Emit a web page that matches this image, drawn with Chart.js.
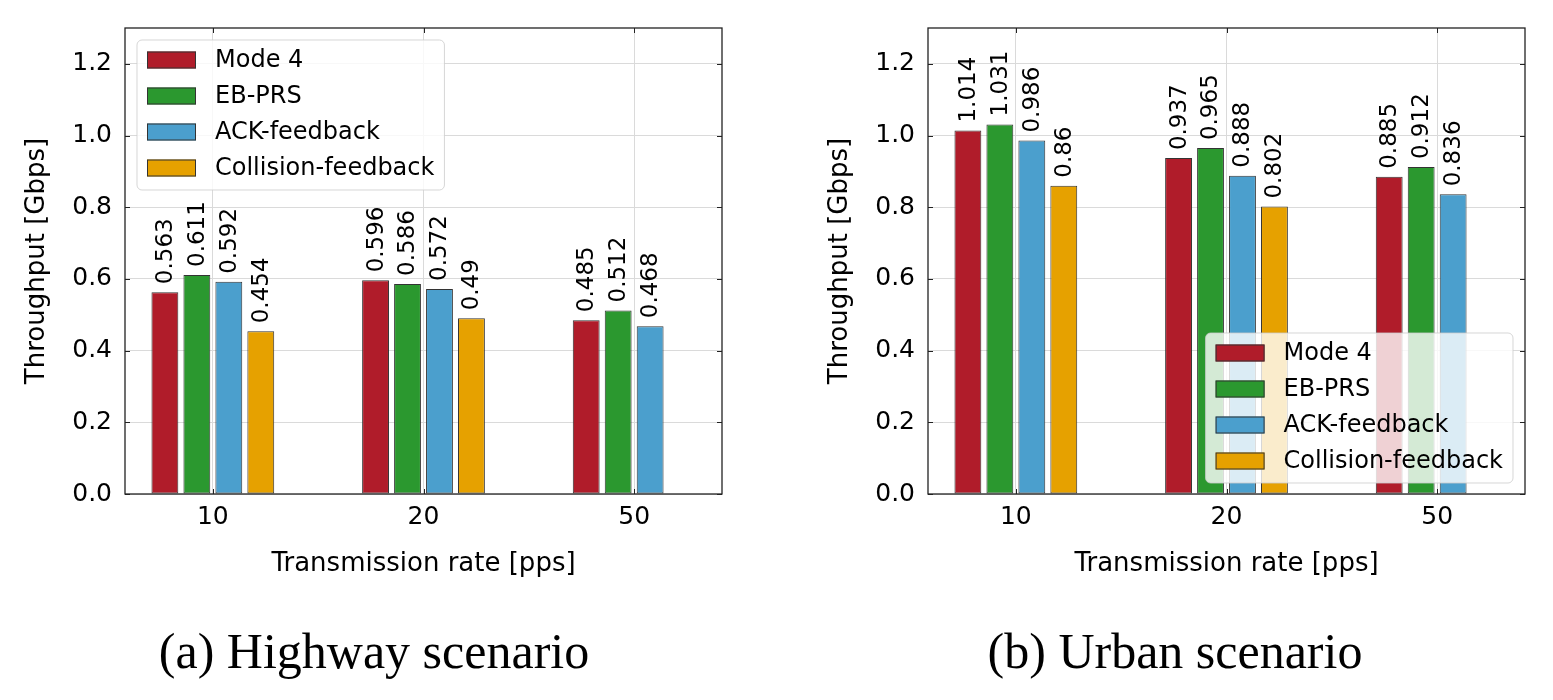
<!doctype html>
<html>
<head>
<meta charset="utf-8">
<title>Throughput</title>
<script src="https://cdn.jsdelivr.net/npm/chart.js"></script>
<style>
  body { margin: 0; background: #fff; width: 1553px; height: 700px; position: relative; overflow: hidden; }
  canvas { position: absolute; top: 0; }
  .cap { position: absolute; top: 626px; width: 600px; text-align: center;
         font-family: "Liberation Serif", serif; font-size: 50px; line-height: 50px; color: #000; white-space: nowrap; }
</style>
</head>
<body>
<canvas id="highway" width="776" height="600" style="left:0px"></canvas>
<canvas id="urban" width="776" height="600" style="left:803px"></canvas>
<div class="cap" style="left:74px">(a) Highway scenario</div>
<div class="cap" style="left:875px">(b) Urban scenario</div>

<script>
// data
const categories = ['10', '20', '50'];
const seriesNames = ['Mode 4', 'EB-PRS', 'ACK-feedback', 'Collision-feedback'];
const seriesColors = ['#b01c2a', '#2b982f', '#4b9fcd', '#e6a100'];
const yTicks = [0, 0.2, 0.4, 0.6, 0.8, 1.0, 1.2];

// highway scenario
const hwMode4 = [0.563, 0.596, 0.485];
const hwEbPrs = [0.611, 0.586, 0.512];
const hwAck = [0.592, 0.572, 0.468];
const hwCollision = [0.454, 0.49, null];

// urban scenario
const urMode4 = [1.014, 0.937, 0.885];
const urEbPrs = [1.031, 0.965, 0.912];
const urAck = [0.986, 0.888, 0.836];
const urCollision = [0.86, 0.802, null];

Chart.defaults.font.family = '"DejaVu Sans"';
Chart.defaults.color = '#000';

const gridColor = '#dadada';

// rotated value labels on top of the bars
const barLabels = {
    id: 'barLabels',
    afterDatasetsDraw(chart) {
        const ctx = chart.ctx;
        ctx.save();
        ctx.font = '23px "DejaVu Sans"';
        ctx.fillStyle = '#000';
        ctx.textAlign = 'left';
        ctx.textBaseline = 'middle';
        chart.data.datasets.forEach((ds, i) => {
            chart.getDatasetMeta(i).data.forEach((bar, j) => {
                const v = ds.data[j].y;
                if (v == null) return;
                ctx.save();
                ctx.translate(bar.x + 1, bar.y - 8);
                ctx.rotate(-Math.PI / 2);
                ctx.fillText(String(v), 0, 0);
                ctx.restore();
            });
        });
        ctx.restore();
    }
};

// axes frame with inward ticks (matplotlib style)
const frame = {
    id: 'frame',
    afterDatasetsDraw(chart) {
        const ctx = chart.ctx, a = chart.chartArea;
        const xs = chart.scales.x, ys = chart.scales.y;
        ctx.save();
        ctx.strokeStyle = '#222';
        ctx.lineWidth = 1.3;
        ctx.strokeRect(a.left, a.top, a.right - a.left, a.bottom - a.top);
        ctx.lineWidth = 1;
        ctx.beginPath();
        ys.ticks.forEach(t => {
            const y = Math.round(ys.getPixelForValue(t.value)) + 0.5;
            ctx.moveTo(a.left, y); ctx.lineTo(a.left + 5, y);
            ctx.moveTo(a.right, y); ctx.lineTo(a.right - 5, y);
        });
        xs.ticks.forEach(t => {
            const x = Math.round(xs.getPixelForValue(t.value)) + 0.5;
            ctx.moveTo(x, a.bottom); ctx.lineTo(x, a.bottom - 5);
            ctx.moveTo(x, a.top); ctx.lineTo(x, a.top + 5);
        });
        ctx.stroke();
        ctx.restore();
    }
};

// legend drawn inside the plot area
const boxLegend = {
    id: 'boxLegend',
    afterDraw(chart, args, opts) {
        const ctx = chart.ctx, a = chart.chartArea;
        ctx.save();
        ctx.font = '24px "DejaVu Sans"';
        const tw = Math.max(...chart.data.datasets.map(d => ctx.measureText(d.label).width));
        const w = 10 + 49 + 19 + tw + 10, h = 150;
        const x = opts.corner === 'ul' ? a.left + 12 : a.right - 12 - w;
        const y = opts.corner === 'ul' ? a.top + 12 : a.bottom - 11 - h;
        ctx.beginPath();
        if (ctx.roundRect) ctx.roundRect(x, y, w, h, 5); else ctx.rect(x, y, w, h);
        ctx.fillStyle = 'rgba(255,255,255,0.8)';
        ctx.fill();
        ctx.strokeStyle = 'rgba(204,204,204,0.8)';
        ctx.lineWidth = 1;
        ctx.stroke();
        chart.data.datasets.forEach((d, i) => {
            const cy = y + 20 + i * 36;
            ctx.fillStyle = d.backgroundColor;
            ctx.fillRect(x + 10, cy - 8.5, 49, 17);
            ctx.strokeStyle = '#333';
            ctx.strokeRect(x + 10.5, cy - 8, 48, 16);
            ctx.fillStyle = '#000';
            ctx.textBaseline = 'middle';
            ctx.fillText(d.label, x + 78, cy + 1);
        });
        ctx.restore();
    }
};

function makeChart(id, series, corner) {
    return new Chart(document.getElementById(id).getContext('2d'), {
        type: 'bar',
        data: {
            datasets: series.map((vals, i) => ({
                label: seriesNames[i],
                backgroundColor: seriesColors[i],
                borderColor: '#333',
                borderWidth: 1,
                borderSkipped: false,
                categoryPercentage: 0.607,
                barPercentage: 0.84,
                data: vals.map((v, j) => ({ x: j, y: v }))
            }))
        },
        options: {
            responsive: false,
            animation: false,
            layout: { padding: { top: 26, right: 54, bottom: 18, left: 0 } },
            plugins: {
                legend: { display: false },
                tooltip: { enabled: false },
                boxLegend: { corner: corner }
            },
            scales: {
                x: {
                    type: 'linear',
                    min: -0.417,
                    max: 2.417,
                    bounds: 'data',
                    offset: false,
                    afterBuildTicks: s => { s.ticks = categories.map((c, i) => ({ value: i })); },
                    afterFit: s => { s.height = 88; },
                    grid: { color: gridColor, drawTicks: false, offset: false },
                    border: { display: false },
                    ticks: {
                        callback: v => categories[v],
                        font: { size: 25 },
                        padding: 8,
                        maxRotation: 0,
                        autoSkip: false
                    },
                    title: {
                        display: true,
                        text: 'Transmission rate [pps]',
                        font: { size: 26 },
                        padding: { top: 4, bottom: 2 }
                    }
                },
                y: {
                    min: 0,
                    max: 1.3,
                    afterBuildTicks: s => { s.ticks = yTicks.map(v => ({ value: v })); },
                    afterFit: s => { s.width = 125; },
                    grid: { color: gridColor, drawTicks: false },
                    border: { display: false },
                    ticks: {
                        callback: v => v.toFixed(1),
                        font: { size: 25 },
                        padding: 13,
                        autoSkip: false
                    },
                    title: {
                        display: true,
                        text: 'Throughput [Gbps]',
                        font: { size: 26 },
                        padding: { top: 22, bottom: 4 }
                    }
                }
            }
        },
        plugins: [frame, barLabels, boxLegend]
    });
}

makeChart('highway', [hwMode4, hwEbPrs, hwAck, hwCollision], 'ul');
makeChart('urban', [urMode4, urEbPrs, urAck, urCollision], 'lr');
</script>
</body>
</html>
